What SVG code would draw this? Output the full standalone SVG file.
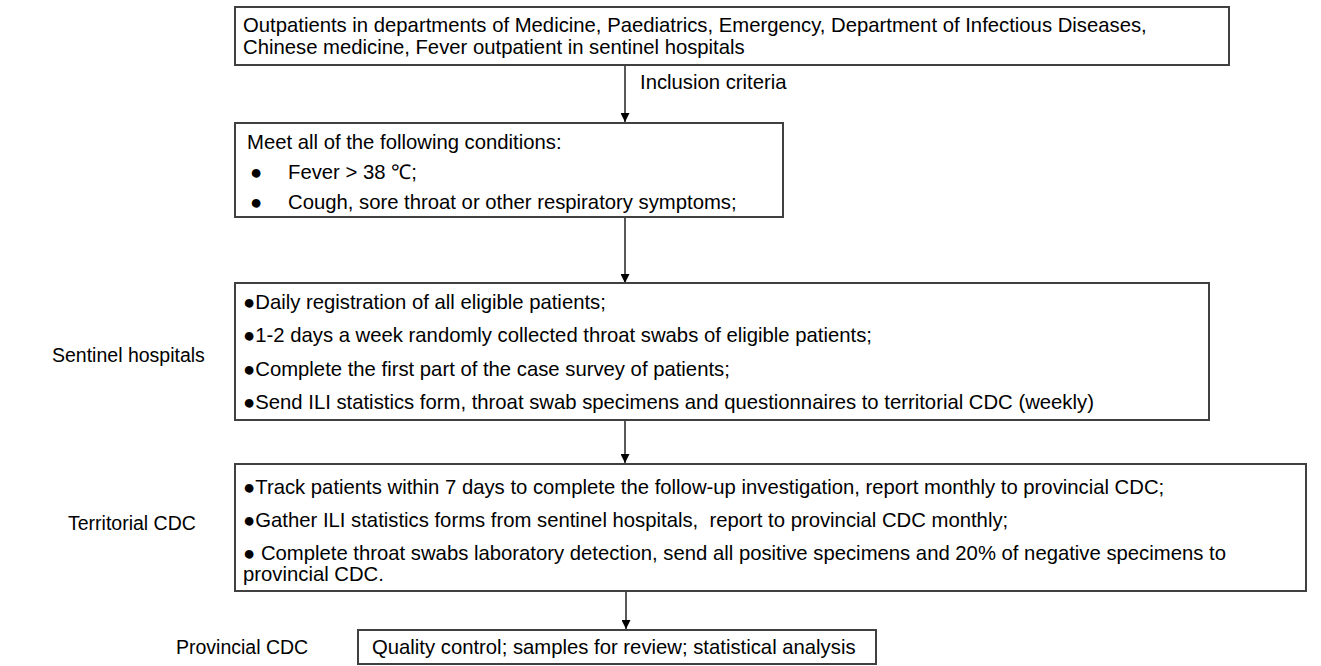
<svg xmlns="http://www.w3.org/2000/svg" width="1321" height="666" viewBox="0 0 1321 666">
<defs>
<style>
.box{fill:#fff;stroke:#404040;stroke-width:2}
.t{font-family:"Liberation Sans",Arial,sans-serif;font-size:20.3px;fill:#000}
.lab{font-family:"Liberation Sans",Arial,sans-serif;font-size:19.5px;fill:#000}
.con{stroke:#000;stroke-width:1.3;fill:none}
</style>
<marker id="ah" viewBox="0 0 10 10" refX="10" refY="5" markerWidth="9" markerHeight="9" markerUnits="userSpaceOnUse" orient="auto">
<path d="M0,0 L10,5 L0,10 z" fill="#000"/>
</marker>
</defs>
<rect width="1321" height="666" fill="#fff"/>
<g id="labels">
<text class="lab" x="52" y="362">Sentinel hospitals</text>
<text class="lab" x="68" y="530">Territorial CDC</text>
<text class="lab" x="176" y="654">Provincial CDC</text>
</g>
<g id="connectors">
<line class="con" x1="625" y1="65" x2="625" y2="122" marker-end="url(#ah)"/>
<line class="con" x1="625" y1="217" x2="625" y2="283" marker-end="url(#ah)"/>
<line class="con" x1="625" y1="420" x2="625" y2="463" marker-end="url(#ah)"/>
<line class="con" x1="626" y1="591" x2="626" y2="629" marker-end="url(#ah)"/>
<text class="t" x="640" y="89">Inclusion criteria</text>
</g>
<g id="n1">
<rect class="box" x="235" y="7" width="994" height="58"/>
<text class="t" x="243" y="32">Outpatients in departments of Medicine, Paediatrics, Emergency, Department of Infectious Diseases,</text>
<text class="t" x="243" y="54">Chinese medicine, Fever outpatient in sentinel hospitals</text>
</g>
<g id="n2">
<rect class="box" x="235" y="123" width="548" height="94"/>
<text class="t" x="247" y="149">Meet all of the following conditions:</text>
<text class="t" x="250" y="179">●</text>
<text class="t" x="288" y="179">Fever &gt; 38 ℃;</text>
<text class="t" x="250" y="209">●</text>
<text class="t" x="288" y="209">Cough, sore throat or other respiratory symptoms;</text>
</g>
<g id="n3">
<rect class="box" x="235" y="283" width="974" height="137"/>
<text class="t" x="243" y="309">●Daily registration of all eligible patients;</text>
<text class="t" x="243" y="342">●1-2 days a week randomly collected throat swabs of eligible patients;</text>
<text class="t" x="243" y="376">●Complete the first part of the case survey of patients;</text>
<text class="t" x="243" y="409">●Send ILI statistics form, throat swab specimens and questionnaires to territorial CDC (weekly)</text>
</g>
<g id="n4">
<rect class="box" x="235" y="464" width="1071" height="127"/>
<text class="t" x="243" y="494">●Track patients within 7 days to complete the follow-up investigation, report monthly to provincial CDC;</text>
<text class="t" x="243" y="527" xml:space="preserve">●Gather ILI statistics forms from sentinel hospitals,  report to provincial CDC monthly;</text>
<text class="t" x="243" y="560">● Complete throat swabs laboratory detection, send all positive specimens and 20% of negative specimens to</text>
<text class="t" x="243" y="581">provincial CDC.</text>
</g>
<g id="n5">
<rect class="box" x="358" y="630" width="518" height="34"/>
<text class="t" x="372" y="654">Quality control; samples for review; statistical analysis</text>
</g>
</svg>
